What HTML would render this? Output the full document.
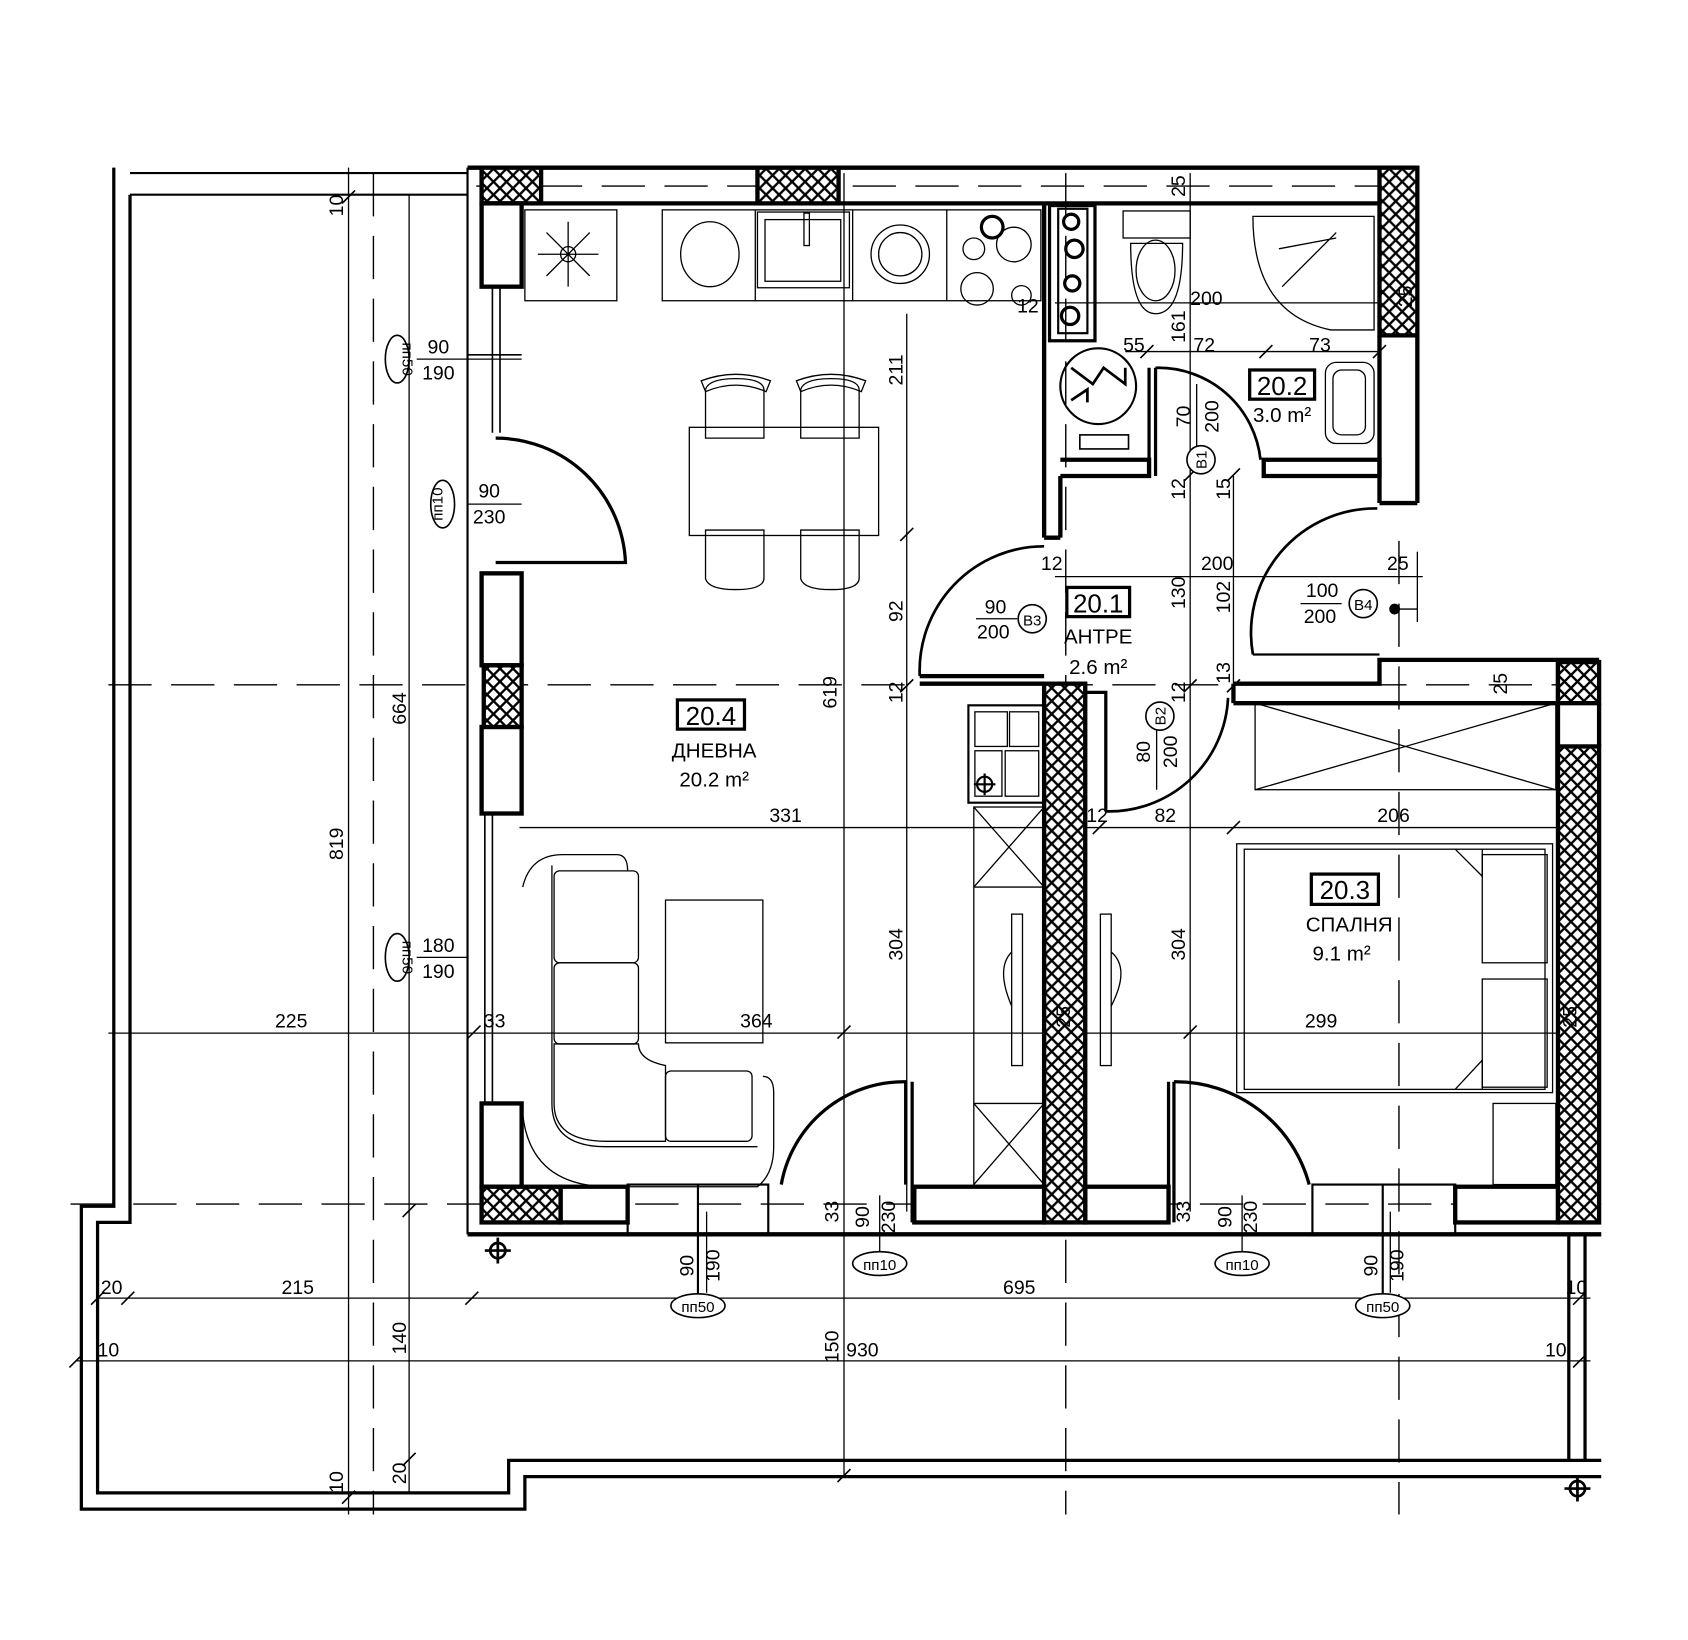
<!DOCTYPE html>
<html><head><meta charset="utf-8"><style>
html,body{margin:0;padding:0;background:#fff;}
svg{display:block}
text{font-family:"Liberation Sans",sans-serif;fill:#000}
</style></head><body>
<svg width="1688" height="1640" viewBox="0 0 1560 1516" xmlns="http://www.w3.org/2000/svg">
<defs>
<pattern id="h" width="12" height="12" patternUnits="userSpaceOnUse">
<rect width="12" height="12" fill="#fff"/>
<path d="M0 0L12 12M12 0L0 12" stroke="#000" stroke-width="2.2"/>
</pattern>
</defs>
<rect width="1560" height="1516" fill="#fff"/>

<g fill="none" stroke="#000" stroke-width="3">
<path d="M105 155 V1115 H75 V1395 H485 V1365 H1480"/>
<path d="M120 180 V1130 H90 V1380 H470 V1350 H1480"/>
<path d="M1450 1142 V1350 M1465 1142 V1350"/>
</g>
<g stroke="#000" stroke-width="2" fill="none">
<path d="M120 160 H432 M120 180 H432"/>
</g>

<g stroke="#000" stroke-width="1.3" stroke-dasharray="40,18" fill="none">
<path d="M100 633 H1480"/>
<path d="M65 1113 H1480"/>
<path d="M440 172 H1275"/>
<path d="M985 160 V1400"/>
<path d="M1293 500 V1400"/>
<path d="M345 160 V1400"/>
</g>

<g stroke="#000" stroke-width="1.2" fill="none">
<path d="M322 155 V1400"/>
<path d="M378 180 V1380"/>
<path d="M780 160 V1365"/>
<path d="M838 290 V1120"/>
<path d="M1100 160 V1120"/>
<path d="M1140 440 V640"/>
<path d="M90 1200 H1470"/>
<path d="M70 1258 H1470"/>
<path d="M100 955 H1440"/>
<path d="M480 765 H1440"/>
<path d="M975 280 H1275"/>
<path d="M1040 325 H1275"/>
<path d="M975 533 H1315"/>
<path d="M1310 510 V575"/>
<path d="M1286 563 H1310"/>
</g>
<g stroke="#000" stroke-width="1.5">
<path d="M316 188 l12 -12 M372 1125 l12 -12 M372 1355 l12 -12 M316 1390 l12 -12 M774 1370 l12 -12 M84 1206 l12 -12 M112 1206 l12 -12 M430 1206 l12 -12 M64 1264 l12 -12 M1454 1264 l12 -12 M1454 1206 l12 -12 M832 500 l12 -12 M832 640 l12 -12 M1094 640 l12 -12 M1134 640 l12 -12 M1094 445 l12 -12 M1134 445 l12 -12 M1094 960 l12 -12 M774 960 l12 -12 M432 960 l12 -12 M1010 771 l12 -12 M1134 771 l12 -12 M1054 331 l12 -12 M1164 331 l12 -12 M1269 331 l12 -12"/>
</g>

<g stroke="#000" stroke-width="4" fill="none">
<path d="M432 155 H1310"/>
<path d="M480 188 H1275"/>
</g>
<rect x="445" y="155" width="55" height="33" fill="url(#h)" stroke="#000" stroke-width="4"/>
<rect x="700" y="155" width="75" height="33" fill="url(#h)" stroke="#000" stroke-width="4"/>
<rect x="1275" y="155" width="35" height="155" fill="url(#h)" stroke="#000" stroke-width="4"/>
<path d="M1275 310 V465 M1310 310 V465 M1275 465 H1310" stroke="#000" stroke-width="4" fill="none"/>

<path d="M432 155 V1141" stroke="#000" stroke-width="2"/>
<g stroke="#000" stroke-width="4" fill="#fff">
<rect x="445" y="188" width="37" height="77"/>
<rect x="445" y="530" width="37" height="85"/>
<rect x="445" y="672" width="37" height="80"/>
<rect x="445" y="1020" width="37" height="77"/>
</g>
<rect x="447" y="615" width="35" height="57" fill="url(#h)" stroke="#000" stroke-width="4"/>
<g stroke="#000" stroke-width="1.5">
<path d="M455 265 V400 M462 265 V400 M432 328 H482"/>
<path d="M448 752 V1020 M455 752 V1020"/>
</g>
<path d="M458 405 A120 120 0 0 1 578 520 H458" fill="none" stroke="#000" stroke-width="3"/>

<path d="M432 1141 H1480" stroke="#000" stroke-width="4"/>
<g stroke="#000" stroke-width="4" fill="#fff">
<rect x="518" y="1097" width="62" height="33"/>
<rect x="845" y="1097" width="120" height="33"/>
<rect x="1003" y="1097" width="77" height="33"/>
<rect x="1345" y="1097" width="95" height="33"/>
</g>
<rect x="445" y="1097" width="73" height="33" fill="url(#h)" stroke="#000" stroke-width="4"/>
<g stroke="#000" stroke-width="2" fill="none">
<rect x="580" y="1095" width="130" height="46"/>
<path d="M645 1095 V1210"/>
<rect x="1213" y="1095" width="132" height="46"/>
<path d="M1278 1095 V1210"/>
</g>
<g stroke="#000" stroke-width="3" fill="none">
<path d="M722 1095 A115 115 0 0 1 837 1000 V1095"/>
<path d="M1085 1000 A128 128 0 0 1 1210 1095"/>
<path d="M1085 1000 V1130 M1080 1000 V1130"/>
<path d="M843 1000 V1130"/>
</g>

<rect x="965" y="632" width="38" height="498" fill="url(#h)" stroke="#000" stroke-width="4"/>
<path d="M1003 640 H1022 V750" fill="none" stroke="#000" stroke-width="3"/>
<path d="M1022 750 A110 110 0 0 0 1135 645" fill="none" stroke="#000" stroke-width="2.5"/>

<g stroke="#000" stroke-width="4" fill="none">
<path d="M965 188 V497 M980 440 V497 M965 497 H980"/>
<path d="M850 632 H965 M850 625 H965"/>
<path d="M980 425 H1062 V440 H980"/>
<path d="M1168 425 H1275 V440 H1168 Z"/>
<path d="M1140 632 H1275 V610 H1478 M1140 650 H1440 M1140 632 V650"/>
<path d="M1440 612 V650"/>
</g>
<rect x="1440" y="612" width="38" height="38" fill="url(#h)" stroke="#000" stroke-width="4"/>
<rect x="1440" y="690" width="38" height="440" fill="url(#h)" stroke="#000" stroke-width="4"/>
<path d="M1440 650 V690 M1478 650 V690" stroke="#000" stroke-width="4"/>
<path d="M850 625 A115 115 0 0 1 965 505" fill="none" stroke="#000" stroke-width="2.5"/>
<path d="M1158 605 A115 115 0 0 1 1273 470" fill="none" stroke="#000" stroke-width="2.5"/>
<path d="M1158 605 H1275" stroke="#000" stroke-width="2"/>
<path d="M1068 340 A95 95 0 0 1 1165 425" fill="none" stroke="#000" stroke-width="2.5"/>
<path d="M1062 340 V440 M1068 340 V440" stroke="#000" stroke-width="3"/>

<g stroke="#000" stroke-width="1.2" fill="none">
<rect x="485" y="194" width="85" height="84"/>
<rect x="612" y="194" width="350" height="84"/>
<path d="M698 194 V278 M788 194 V278 M875 194 V278"/>
<rect x="700" y="196" width="85" height="70"/>
<rect x="707" y="203" width="70" height="57"/>
<ellipse cx="656" cy="235" rx="27" ry="30"/>
<circle cx="832" cy="235" r="27"/><circle cx="832" cy="235" r="20"/>
<circle cx="900" cy="230" r="10"/><circle cx="937" cy="226" r="16"/>
<circle cx="903" cy="267" r="15"/><circle cx="944" cy="273" r="9"/>
<path d="M525 205 V265 M497 235 H553 M505 215 L545 255 M545 215 L505 255"/>
<circle cx="525" cy="235" r="7"/>
<rect x="743" y="197" width="5" height="30"/>
</g>
<circle cx="917" cy="210" r="10" fill="none" stroke="#000" stroke-width="3"/>
<rect x="970" y="190" width="42" height="125" fill="none" stroke="#000" stroke-width="3"/>
<rect x="978" y="193" width="27" height="115" fill="none" stroke="#000" stroke-width="2"/>
<g stroke="#000" stroke-width="3" fill="none">
<circle cx="990" cy="205" r="7"/><circle cx="993" cy="230" r="8"/><circle cx="991" cy="262" r="7"/><circle cx="989" cy="292" r="8"/>
</g>
<circle cx="1015" cy="357" r="35" fill="none" stroke="#000" stroke-width="2"/>
<path d="M990 340 L1010 355 L1020 340 L1040 355 V340 M990 370 L1005 360 V372" stroke="#000" stroke-width="2.5" fill="none"/>
<rect x="998" y="402" width="45" height="13" fill="none" stroke="#000" stroke-width="1.5"/>

<g stroke="#000" stroke-width="1.2" fill="none">
<rect x="1038" y="195" width="62" height="25"/>
<path d="M1045 225 H1093 Q1093 290 1068 290 Q1045 290 1045 225Z"/>
<ellipse cx="1068" cy="250" rx="18" ry="28"/>
<path d="M1158 200 H1270 V305 H1230 Q1158 290 1158 200 Z"/>
<path d="M1185 265 L1235 215 M1182 230 L1235 220"/>
<rect x="1225" y="335" width="45" height="75" rx="10"/>
<rect x="1232" y="342" width="30" height="60" rx="8"/>
</g>

<g stroke="#000" stroke-width="1.2" fill="none">
<rect x="637" y="395" width="175" height="100"/>
<path d="M652 405 V360 Q655 350 680 350 Q705 350 706 360 V405 Z M648 352 Q680 340 712 352 L708 362 Q680 350 652 362 Z"/>
<path d="M740 405 V360 Q743 350 768 350 Q793 350 794 360 V405 Z M736 352 Q768 340 800 352 L796 362 Q768 350 740 362 Z"/>
<path d="M652 490 V535 Q655 545 680 545 Q705 545 706 535 V490 Z"/>
<path d="M740 490 V535 Q743 545 768 545 Q793 545 794 535 V490 Z"/>
</g>
<g stroke="#000" stroke-width="1.2" fill="none">
<path d="M483 820 Q490 790 520 790 H570 Q580 790 580 805"/>
<path d="M510 800 V1020 Q510 1060 560 1060 H700"/>
<rect x="512" y="805" width="78" height="85" rx="5"/>
<rect x="512" y="890" width="78" height="75" rx="5"/>
<path d="M512 965 V1020 Q512 1055 560 1055 H615 V985 Q590 980 590 965 Z"/>
<rect x="615" y="990" width="80" height="65" rx="5"/>
<path d="M483 1030 Q490 1095 560 1097 H700 Q715 1085 715 1060 V1010 Q715 995 705 995"/>
<rect x="615" y="832" width="90" height="132"/>
</g>
<g stroke="#000" stroke-width="1.2" fill="none">
<rect x="895" y="652" width="70" height="90" stroke-width="2"/>
<rect x="901" y="658" width="30" height="32"/><rect x="933" y="658" width="27" height="32"/>
<rect x="901" y="694" width="25" height="42"/><rect x="929" y="694" width="31" height="42"/>
<rect x="900" y="746" width="65" height="350"/>
<path d="M900 746 L965 820 M965 746 L900 820 M900 820 H965 M900 1020 H965 M900 1020 L965 1095 M965 1020 L900 1095"/>
<rect x="935" y="845" width="10" height="140"/>
<rect x="1017" y="845" width="10" height="140"/>
<path d="M935 880 Q920 895 935 930 M1027 880 Q1045 895 1027 930"/>
<rect x="1160" y="650" width="278" height="80"/>
<path d="M1160 650 L1438 730 M1438 650 L1160 730"/>
<rect x="1143" y="780" width="292" height="230"/>
<rect x="1150" y="785" width="278" height="222"/>
<path d="M1345 785 L1370 810 V785 M1345 1007 L1370 980 V1007"/>
<rect x="1370" y="790" width="60" height="100"/><rect x="1370" y="905" width="60" height="100"/>
<rect x="1380" y="1020" width="58" height="75"/>
</g>
<circle cx="910" cy="725" r="7" fill="none" stroke="#000" stroke-width="2"/>
<path d="M900 725 H920 M910 715 V735" stroke="#000" stroke-width="2"/>

<g text-anchor="middle">
<rect x="626" y="647" width="62" height="27" fill="none" stroke="#000" stroke-width="3"/>
<text x="657" y="670" font-size="24">20.4</text>
<text x="660" y="700" font-size="19">ДНЕВНА</text>
<text x="660" y="727" font-size="19">20.2 m²</text>
<rect x="986" y="543" width="58" height="27" fill="none" stroke="#000" stroke-width="3"/>
<text x="1015" y="566" font-size="24">20.1</text>
<text x="1015" y="595" font-size="19">АНТРЕ</text>
<text x="1015" y="623" font-size="19">2.6 m²</text>
<rect x="1155" y="342" width="60" height="27" fill="none" stroke="#000" stroke-width="3"/>
<text x="1185" y="365" font-size="24">20.2</text>
<text x="1185" y="390" font-size="19">3.0 m²</text>
<rect x="1212" y="808" width="62" height="28" fill="none" stroke="#000" stroke-width="3"/>
<text x="1243" y="831" font-size="24">20.3</text>
<text x="1247" y="861" font-size="19">СПАЛНЯ</text>
<text x="1240" y="888" font-size="19">9.1 m²</text>
</g>

<g font-size="18" text-anchor="middle">
<text x="269" y="950">225</text>
<text x="457" y="950">33</text>
<text x="699" y="950">364</text>
<text x="1221" y="950">299</text>
<text x="726" y="760">331</text>
<text x="1077" y="760">82</text>
<text x="1288" y="760">206</text>
<text x="1014" y="760">12</text>
<text x="1125" y="527">200</text>
<text x="1115" y="282">200</text>
<text x="1048" y="325">55</text>
<text x="1113" y="325">72</text>
<text x="1220" y="325">73</text>
<text x="950" y="289">12</text>
<text x="972" y="527">12</text>
<text x="1292" y="527">25</text>
<text x="275" y="1196">215</text>
<text x="103" y="1196">20</text>
<text x="100" y="1254">10</text>
<text x="942" y="1196">695</text>
<text x="797" y="1254">930</text>
<text x="1457" y="1196">10</text>
<text x="1438" y="1254">10</text>
<text x="405" y="327">90</text>
<text x="405" y="351">190</text>
<text x="452" y="460">90</text>
<text x="452" y="484">230</text>
<text x="405" y="880">180</text>
<text x="405" y="904">190</text>
<text x="920" y="567">90</text>
<text x="918" y="590">200</text>
<text x="1222" y="552">100</text>
<text x="1220" y="576">200</text>
</g>
<g stroke="#000" stroke-width="1.2">
<path d="M385 332 H482 M432 466 H482 M385 885 H432 M902 572 H940 M1202 558 H1240"/>
</g>
<g font-size="18" text-anchor="middle">
<text transform="translate(317,190) rotate(-90)">10</text>
<text transform="translate(375,655) rotate(-90)">664</text>
<text transform="translate(317,780) rotate(-90)">819</text>
<text transform="translate(375,1237) rotate(-90)">140</text>
<text transform="translate(375,1362) rotate(-90)">20</text>
<text transform="translate(317,1370) rotate(-90)">10</text>
<text transform="translate(775,1245) rotate(-90)">150</text>
<text transform="translate(834,342) rotate(-90)">211</text>
<text transform="translate(834,565) rotate(-90)">92</text>
<text transform="translate(834,640) rotate(-90)">12</text>
<text transform="translate(773,640) rotate(-90)">619</text>
<text transform="translate(834,873) rotate(-90)">304</text>
<text transform="translate(1095,873) rotate(-90)">304</text>
<text transform="translate(1095,172) rotate(-90)">25</text>
<text transform="translate(1095,302) rotate(-90)">161</text>
<text transform="translate(1095,548) rotate(-90)">130</text>
<text transform="translate(1137,552) rotate(-90)">102</text>
<text transform="translate(1095,452) rotate(-90)">12</text>
<text transform="translate(1137,452) rotate(-90)">15</text>
<text transform="translate(1137,622) rotate(-90)">13</text>
<text transform="translate(1095,640) rotate(-90)">12</text>
<text transform="translate(1393,632) rotate(-90)">25</text>
<text transform="translate(1305,274) rotate(-90)">25</text>
<text transform="translate(1457,940) rotate(-90)">25</text>
<text transform="translate(989,940) rotate(-90)">25</text>
<text transform="translate(775,1120) rotate(-90)">33</text>
<text transform="translate(1100,1120) rotate(-90)">33</text>
<text transform="translate(803,1125) rotate(-90)">90</text>
<text transform="translate(827,1125) rotate(-90)">230</text>
<text transform="translate(1138,1125) rotate(-90)">90</text>
<text transform="translate(1162,1125) rotate(-90)">230</text>
<text transform="translate(641,1170) rotate(-90)">90</text>
<text transform="translate(665,1170) rotate(-90)">190</text>
<text transform="translate(1273,1170) rotate(-90)">90</text>
<text transform="translate(1297,1170) rotate(-90)">190</text>
<text transform="translate(1100,385) rotate(-90)">70</text>
<text transform="translate(1126,385) rotate(-90)">200</text>
<text transform="translate(1063,695) rotate(-90)">80</text>
<text transform="translate(1088,695) rotate(-90)">200</text>
</g>
<g stroke="#000" stroke-width="1.2"><path d="M1106 355 V420 M1069 660 V730 M813 1105 V1160 M1148 1105 V1160 M653 1120 V1195 M1285 1120 V1195"/></g>

<g fill="#fff" stroke="#000" stroke-width="1.5">
<ellipse cx="367" cy="332" rx="11" ry="22"/>
<ellipse cx="409" cy="466" rx="11" ry="22"/>
<ellipse cx="367" cy="885" rx="11" ry="22"/>
<ellipse cx="813" cy="1168" rx="25" ry="11"/>
<ellipse cx="1148" cy="1168" rx="25" ry="11"/>
<ellipse cx="645" cy="1207" rx="25" ry="11"/>
<ellipse cx="1278" cy="1207" rx="25" ry="11"/>
<circle cx="954" cy="572" r="13"/>
<circle cx="1260" cy="558" r="13"/>
<circle cx="1110" cy="425" r="13"/>
<circle cx="1072" cy="662" r="13"/>
</g>
<g font-size="14" text-anchor="middle">
<text transform="translate(372,332) rotate(90)">пп50</text>
<text transform="translate(404,466) rotate(-90)" dy="5">пп10</text>
<text transform="translate(372,885) rotate(90)">пп50</text>
<text x="813" y="1174">пп10</text>
<text x="1148" y="1174">пп10</text>
<text x="645" y="1213">пп50</text>
<text x="1278" y="1213">пп50</text>
<text x="954" y="578">В3</text>
<text x="1260" y="564">В4</text>
<text transform="translate(1115,425) rotate(-90)">В1</text>
<text transform="translate(1077,662) rotate(-90)">В2</text>
</g>
<circle cx="1289" cy="563" r="5" fill="#000"/>
<g stroke="#000" stroke-width="2.5" fill="none">
<circle cx="1458" cy="1376" r="7"/><path d="M1446 1376 H1470 M1458 1364 V1388"/>
<circle cx="460" cy="1156" r="7"/><path d="M448 1156 H472 M460 1144 V1168"/>
</g>
</svg>
</body></html>
